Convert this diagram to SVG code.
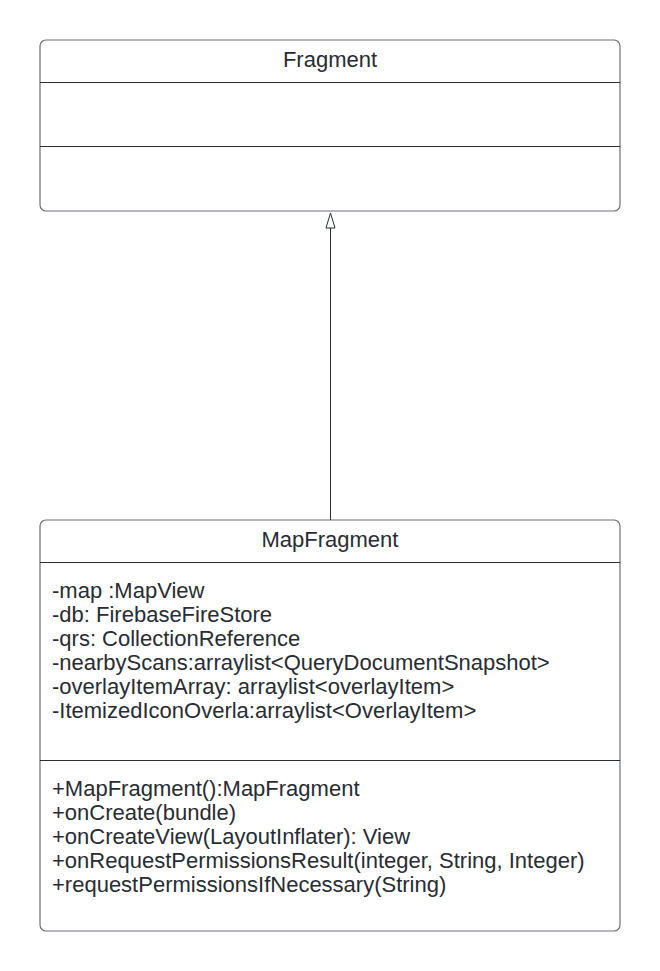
<svg xmlns="http://www.w3.org/2000/svg" width="660" height="971" viewBox="0 0 660 971">
<style>
.box{fill:#ffffff;stroke:#6b6f76;stroke-width:1.2}
.div{stroke:#282c33;stroke-width:1.2}
.t{font-family:"Liberation Sans",Arial,sans-serif;font-size:22px;fill:#282c33}
.c{text-anchor:middle}
.conn{stroke:#282c33;stroke-width:1;fill:none}
</style>
<rect width="660" height="971" fill="#ffffff"/>
<g id="node-fragment">
<rect class="box" x="40" y="40" width="580" height="171" rx="6"/>
<line class="div" x1="40" y1="82.5" x2="620" y2="82.5"/>
<line class="div" x1="40" y1="146.5" x2="620" y2="146.5"/>
<text class="t c" x="330" y="67">Fragment</text>
</g>
<g id="node-mapfragment">
<rect class="box" x="40" y="520" width="580" height="411" rx="6"/>
<line class="div" x1="40" y1="562.5" x2="620" y2="562.5"/>
<line class="div" x1="40" y1="760.5" x2="620" y2="760.5"/>
<text class="t c" x="330" y="547">MapFragment</text>
<text class="t" x="52" y="598">-map :MapView</text>
<text class="t" x="52" y="622">-db: FirebaseFireStore</text>
<text class="t" x="52" y="646">-qrs: CollectionReference</text>
<text class="t" x="52" y="670">-nearbyScans:arraylist&lt;QueryDocumentSnapshot&gt;</text>
<text class="t" x="52" y="694">-overlayItemArray: arraylist&lt;overlayItem&gt;</text>
<text class="t" x="52" y="718">-ItemizedIconOverla:arraylist&lt;OverlayItem&gt;</text>
<text class="t" x="52" y="796">+MapFragment():MapFragment</text>
<text class="t" x="52" y="820">+onCreate(bundle)</text>
<text class="t" x="52" y="844">+onCreateView(LayoutInflater): View</text>
<text class="t" x="52" y="868">+onRequestPermissionsResult(integer, String, Integer)</text>
<text class="t" x="52" y="892">+requestPermissionsIfNecessary(String)</text>
</g>
<g id="connectors">
<line class="conn" x1="330.5" y1="520" x2="330.5" y2="228"/>
<polygon class="conn" points="330.5,213 335,228 326,228" fill="#ffffff"/>
</g>
</svg>
